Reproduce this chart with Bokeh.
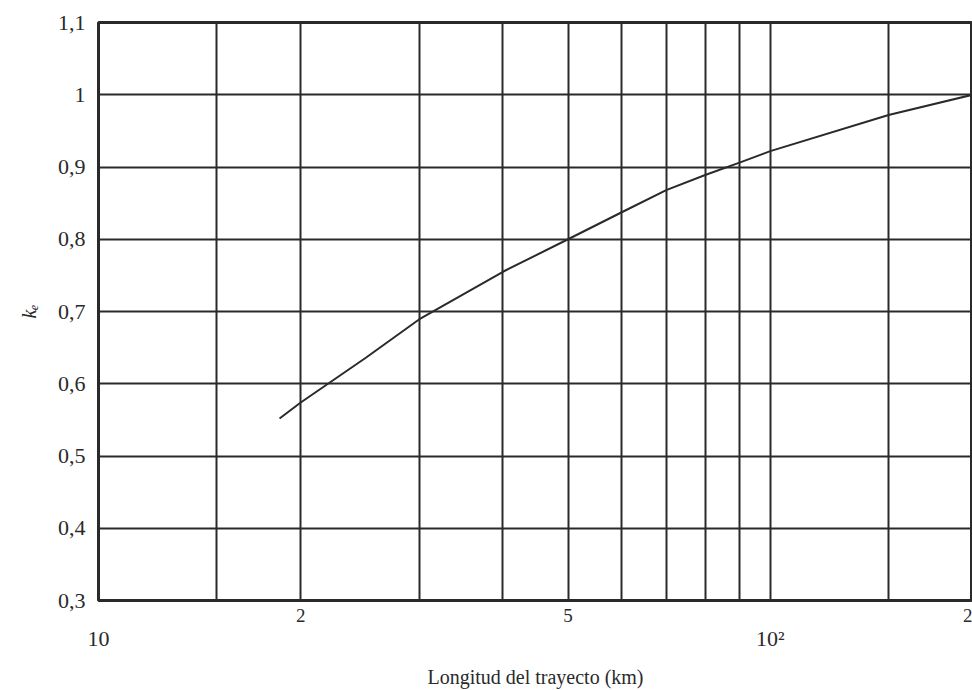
from bokeh.plotting import figure
from bokeh.models import FixedTicker, LogAxis, Range1d
from bokeh.embed import file_html
from bokeh.resources import INLINE

# Data
path_km = [18.6, 20, 25, 30, 40, 50, 60, 70, 80, 90, 100, 150, 200]
ke = [0.552, 0.574, 0.636, 0.689, 0.755, 0.800, 0.837, 0.868, 0.889, 0.906, 0.922, 0.972, 1.0]

y_ticks = [0.3, 0.4, 0.5, 0.6, 0.7, 0.8, 0.9, 1.0, 1.1]
y_tick_labels = ["0,3", "0,4", "0,5", "0,6", "0,7", "0,8", "0,9", "1", "1,1"]
x_grid = [15, 20, 30, 40, 50, 60, 70, 80, 90, 100, 150, 200]
x_minor_ticks = [20, 50, 200]
x_minor_labels = ["2", "5", "2"]
x_decade_ticks = [10, 100]
x_decade_labels = ["10", "10²"]
x_title = "Longitud del trayecto (km)"
y_title = "kₑ"

FONT = "Liberation Serif"
INK = "#2a2a2a"

p = figure(width=972, height=690, x_axis_type="log",
           x_range=Range1d(10, 200), y_range=Range1d(0.3, 1.1),
           output_backend="svg", toolbar_location=None,
           min_border_left=98, min_border_right=0, min_border_top=22,
           min_border_bottom=88)
p.background_fill_color = "white"
p.border_fill_color = "white"
p.outline_line_color = INK
p.outline_line_width = 3

p.line(path_km, ke, line_color=INK, line_width=2)

# grids
p.xgrid.ticker = FixedTicker(ticks=x_grid)
p.ygrid.ticker = FixedTicker(ticks=y_ticks)
for g in (p.xgrid, p.ygrid):
    g.grid_line_color = INK
    g.grid_line_width = 2
    g.grid_line_alpha = 1

# y axis
ya = p.yaxis[0]
ya.ticker = FixedTicker(ticks=y_ticks)
ya.major_label_overrides = {t: l for t, l in zip(y_ticks, y_tick_labels)}
ya.major_tick_out = 0
ya.major_tick_in = 0
ya.minor_tick_out = 0
ya.minor_tick_in = 0
ya.axis_line_color = None
ya.major_label_standoff = 13
ya.major_label_text_font = FONT
ya.major_label_text_font_size = "22px"
ya.major_label_text_color = INK
ya.axis_label = y_title
ya.axis_label_text_font = FONT
ya.axis_label_text_font_style = "italic"
ya.axis_label_text_font_size = "20px"
ya.axis_label_text_color = INK
ya.axis_label_standoff = 15

# x axis 1: the "2" and "5" labels
xa = p.xaxis[0]
xa.ticker = FixedTicker(ticks=x_minor_ticks, minor_ticks=[])
xa.major_label_overrides = {t: l for t, l in zip(x_minor_ticks, x_minor_labels)}
xa.major_tick_out = 0
xa.major_tick_in = 0
xa.axis_line_color = None
xa.major_label_standoff = 8
xa.major_label_text_font = FONT
xa.major_label_text_font_size = "19px"
xa.major_label_text_color = INK

# x axis 2: decades and title
xb = LogAxis(ticker=FixedTicker(ticks=x_decade_ticks, minor_ticks=[]))
xb.major_label_overrides = {t: l for t, l in zip(x_decade_ticks, x_decade_labels)}
xb.major_tick_out = 0
xb.major_tick_in = 0
xb.minor_tick_out = 0
xb.minor_tick_in = 0
xb.axis_line_color = None
xb.major_label_standoff = 1
xb.major_label_text_font = FONT
xb.major_label_text_font_size = "22px"
xb.major_label_text_color = INK
xb.axis_label = x_title
xb.axis_label_text_font = FONT
xb.axis_label_text_font_style = "normal"
xb.axis_label_text_font_size = "20px"
xb.axis_label_text_color = INK
xb.axis_label_standoff = 12
p.add_layout(xb, "below")

open("out.html", "w").write(file_html(p, INLINE))
